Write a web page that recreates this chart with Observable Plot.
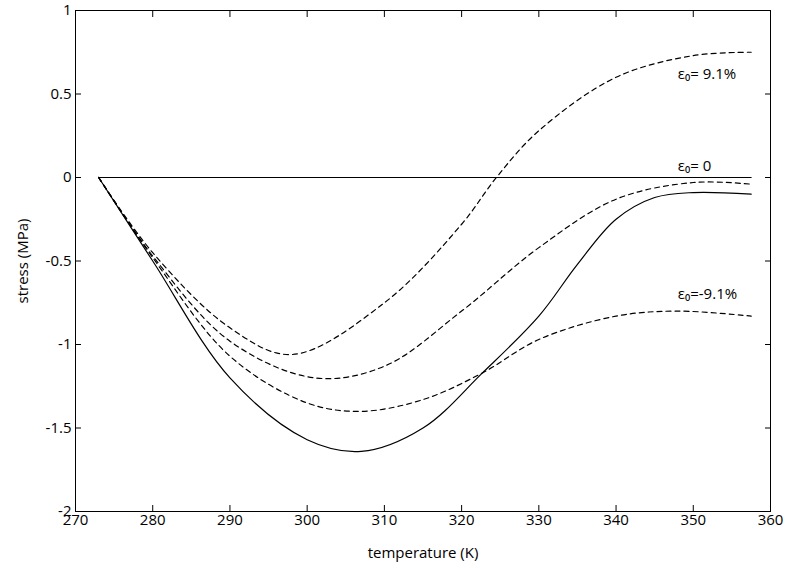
<!DOCTYPE html>
<html><head><meta charset="utf-8">
<script src="https://cdn.jsdelivr.net/npm/d3@7"></script>
<script src="https://cdn.jsdelivr.net/npm/@observablehq/plot@0.6"></script>
<style>body{margin:0;background:#fff}</style>
</head><body><div id="chart"></div>
<script>
const solidT = [273, 280, 290, 300, 307, 315, 322.7, 330, 335, 340, 345, 350, 357.5];
const solidS = [0, -0.5, -1.2, -1.57, -1.64, -1.5, -1.17, -0.83, -0.52, -0.25, -0.12, -0.09, -0.1];
const negT = [273, 280, 290, 300, 307, 315, 322.7, 330, 340, 348, 357.5];
const negS = [0, -0.48, -1.07, -1.35, -1.4, -1.33, -1.17, -0.97, -0.83, -0.8, -0.83];
const zeroT = [273, 280, 290, 301, 310, 320, 330, 340, 350, 357.5];
const zeroS = [0, -0.47, -0.98, -1.2, -1.13, -0.8, -0.42, -0.13, -0.03, -0.04];
const posT = [273, 280, 290, 298, 310, 320, 324.5, 330, 340, 350, 357.5];
const posS = [0, -0.45, -0.9, -1.06, -0.75, -0.28, 0, 0.28, 0.6, 0.73, 0.75];
const labels = ["ε₀= 9.1%", "ε₀= 0", "ε₀=-9.1%"];
const labelS = [0.62, 0.07, -0.7];

const pts = (T, S) => T.map((t, i) => ({t, s: S[i]}));
const dashed = [pts(negT, negS), pts(zeroT, zeroS), pts(posT, posS)];
const xt = d3.range(270, 361, 10);
const yt = d3.range(-2, 1.01, 0.5);

const plot = Plot.plot({
  width: 797, height: 570,
  marginLeft: 75, marginRight: 27, marginTop: 10, marginBottom: 59,
  style: {fontFamily: "Open Sans, sans-serif", color: "#000"},
  x: {domain: [270, 360]},
  y: {domain: [-2, 1]},
  marks: [
    Plot.frame({stroke: "#000"}),
    Plot.axisX({anchor: "top", ticks: xt, tickSize: -6, label: null, tickFormat: () => ""}),
    Plot.axisY({anchor: "right", ticks: yt, tickSize: -6, label: null, tickFormat: () => ""}),
    Plot.axisX({ticks: xt, tickSize: -6, tickPadding: 9, label: "temperature (K)", labelAnchor: "center", labelArrow: "none", labelOffset: 46, fontSize: 15}),
    Plot.axisY({ticks: yt, tickSize: -6, tickPadding: 10, tickFormat: d => String(d), label: "stress (MPa)", labelAnchor: "center", labelArrow: "none", labelOffset: 58, fontSize: 15}),
    Plot.lineY([{t: 273, s: 0}, {t: 357.5, s: 0}], {x: "t", y: "s", stroke: "#000", strokeWidth: 1}),
    ...dashed.map(d => Plot.line(d, {x: "t", y: "s", curve: "catmull-rom", stroke: "#000", strokeWidth: 1.2, strokeDasharray: "5,4"})),
    Plot.line(pts(solidT, solidS), {x: "t", y: "s", curve: "catmull-rom", stroke: "#000", strokeWidth: 1.2}),
    Plot.text(labels, {x: 348, y: (d, i) => labelS[i], text: d => d, textAnchor: "start", fontSize: 15, fill: "#000"})
  ]
});
document.getElementById("chart").append(plot);
</script></body></html>
